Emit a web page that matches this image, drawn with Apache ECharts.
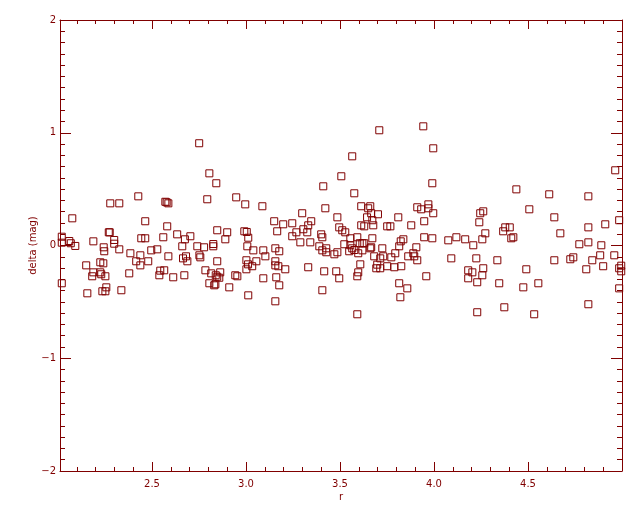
<!DOCTYPE html>
<html><head><meta charset="utf-8">
<script src="https://cdn.jsdelivr.net/npm/echarts@6/dist/echarts.min.js"></script>
<style>html,body{margin:0;padding:0;background:#fff}#c{width:640px;height:512px}</style>
</head><body><div id="c"></div>
<script>
// Tick labels
const xTicks = [2.5, 3.0, 3.5, 4.0, 4.5];
const xMinorTicks = [2.1,2.2,2.3,2.4,2.6,2.7,2.8,2.9,3.1,3.2,3.3,3.4,3.6,3.7,3.8,3.9,4.1,4.2,4.3,4.4,4.6,4.7,4.8,4.9];
const xRange = [2.0106, 5.0];
const yRange = [-2, 2];
const xName = 'r';
const yName = 'delta (mag)';

// [r, delta] values
const points = [
[2.020,0.078],[2.751,0.907],[2.805,0.640],[2.842,0.552],[2.427,0.436],[2.278,0.374],[2.326,0.374],
[2.571,0.388],[2.578,0.383],[2.587,0.374],[2.794,0.410],[2.948,0.427],[2.996,0.365],
[2.076,0.241],[2.464,0.215],[2.581,0.170],[2.270,0.117],[2.275,0.117],[2.634,0.099],
[2.847,0.135],[2.900,0.117],[2.991,0.126],[3.004,0.120],[3.012,0.069],
[2.020,0.025],[2.060,0.040],[2.068,0.020],[2.092,-0.004],[2.188,0.037],[2.243,-0.016],
[2.246,-0.051],[2.299,0.049],[2.299,0.016],[2.326,-0.034],[2.443,0.064],[2.464,0.064],
[2.385,-0.069],[2.438,-0.087],[2.496,-0.043],[2.528,-0.034],[2.560,0.073],[2.675,0.055],
[2.704,0.082],[2.661,-0.007],[2.741,-0.007],[2.777,-0.016],[2.826,0.013],[2.826,-0.007],
[2.890,0.055],[3.007,-0.007],[2.587,-0.096],[2.665,-0.114],[2.681,-0.096],[2.688,-0.140],
[2.752,-0.087],[2.757,-0.105],[2.847,-0.140],[3.002,-0.131],[3.011,-0.167],[2.150,-0.176],
[2.225,-0.149],[2.241,-0.158],[2.416,-0.140],[2.438,-0.176],[2.480,-0.140],[2.188,-0.238],
[2.182,-0.273],[2.225,-0.238],[2.230,-0.255],[2.252,-0.273],[2.379,-0.247],[2.544,-0.223],
[2.539,-0.264],[2.565,-0.220],[2.613,-0.282],[2.672,-0.264],[2.784,-0.220],[2.815,-0.247],
[2.863,-0.238],[2.839,-0.264],[2.847,-0.277],[2.858,-0.286],[2.831,-0.353],[2.837,-0.344],
[2.805,-0.335],[2.943,-0.264],[2.954,-0.273],[3.002,-0.211],[2.911,-0.371],[3.012,-0.442],
[2.020,-0.335],[2.257,-0.371],[2.236,-0.406],[2.252,-0.406],[2.337,-0.397],[2.156,-0.424],
[3.709,1.022],[3.943,1.057],[3.996,0.862],[3.565,0.791],[3.507,0.614],[3.991,0.552],
[3.411,0.525],[3.576,0.463],[3.087,0.348],[3.422,0.330],[3.299,0.286],[3.613,0.348],
[3.661,0.348],[3.650,0.330],[3.666,0.286],[3.702,0.277],[3.644,0.250],[3.672,0.224],
[3.810,0.250],[3.911,0.339],[3.932,0.321],[3.970,0.365],[3.970,0.330],[3.996,0.286],
[3.948,0.215],[3.150,0.215],[3.198,0.188],[3.246,0.197],[3.347,0.215],[3.331,0.179],
[3.486,0.250],[3.496,0.161],[3.512,0.135],[3.528,0.117],[3.613,0.179],[3.629,0.170],
[3.677,0.179],[3.751,0.170],[3.768,0.170],[3.879,0.179],[3.166,0.126],[3.268,0.117],
[3.305,0.144],[3.326,0.117],[3.246,0.082],[3.400,0.099],[3.406,0.073],[3.555,0.064],
[3.592,0.073],[3.672,0.064],[3.948,0.073],[3.991,0.064],[3.039,-0.043],[3.092,-0.043],
[3.156,-0.025],[3.177,-0.051],[3.289,0.028],[3.342,0.028],[3.390,-0.007],[3.406,-0.043],
[3.427,-0.025],[3.427,-0.060],[3.486,-0.060],[3.470,-0.078],[3.523,0.011],[3.555,0.002],
[3.565,-0.025],[3.549,-0.051],[3.576,-0.040],[3.605,0.020],[3.619,0.020],[3.629,0.020],
[3.597,-0.069],[3.619,-0.043],[3.661,-0.025],[3.666,-0.016],[3.725,-0.025],[3.815,-0.007],
[3.823,0.037],[3.837,0.055],[3.906,-0.016],[3.794,-0.069],[3.773,-0.105],[3.730,-0.096],
[3.714,-0.114],[3.682,-0.096],[3.890,-0.069],[3.895,-0.096],[3.863,-0.096],[3.911,-0.131],
[3.751,-0.184],[3.789,-0.193],[3.826,-0.184],[3.693,-0.202],[3.714,-0.202],[3.698,-0.170],
[3.608,-0.167],[3.597,-0.238],[3.592,-0.273],[3.480,-0.229],[3.496,-0.291],[3.416,-0.229],
[3.331,-0.193],[3.209,-0.211],[3.156,-0.140],[3.156,-0.176],[3.172,-0.184],[3.103,-0.096],
[3.055,-0.140],[3.033,-0.184],[3.092,-0.291],[3.161,-0.282],[3.177,-0.353],[3.156,-0.495],
[3.406,-0.397],[3.592,-0.610],[3.815,-0.335],[3.858,-0.380],[3.821,-0.459],[3.959,-0.273],
[4.438,0.498],[4.613,0.454],[4.821,0.436],[4.964,0.667],[4.507,0.321],[4.246,0.286],
[4.262,0.303],[4.241,0.206],[4.640,0.250],[4.985,0.224],[4.379,0.161],[4.403,0.161],
[4.368,0.126],[4.273,0.108],[4.672,0.108],[4.821,0.161],[4.911,0.188],[4.076,0.046],
[4.119,0.073],[4.166,0.055],[4.209,0.002],[4.257,0.055],[4.411,0.064],[4.422,0.073],
[4.773,0.011],[4.821,0.028],[4.890,0.002],[4.092,-0.114],[4.225,-0.114],[4.337,-0.131],
[4.640,-0.131],[4.725,-0.122],[4.741,-0.105],[4.842,-0.131],[4.884,-0.087],[4.959,-0.087],
[4.810,-0.211],[4.900,-0.184],[4.985,-0.202],[4.996,-0.179],[4.996,-0.229],[4.182,-0.220],
[4.204,-0.238],[4.182,-0.291],[4.262,-0.202],[4.257,-0.264],[4.230,-0.326],[4.347,-0.335],
[4.491,-0.211],[4.475,-0.371],[4.555,-0.335],[4.985,-0.380],[4.230,-0.592],[4.374,-0.548],
[4.533,-0.610],[4.821,-0.521]
];

const C = '#800000';
const FONT = 'DejaVu Sans';
const lineStyle = { color: C, width: 1 };

function xAx(pos, major, showLine, showLabel) {
  return {
    type: 'value', position: pos, min: xRange[0], max: xRange[1],
    name: showLabel ? xName : '', nameLocation: 'middle', nameGap: 21, nameMoveOverlap: false,
    nameTextStyle: { color: C, fontFamily: FONT, fontSize: 10 },
    splitLine: { show: false },
    axisLine: { show: showLine, onZero: false, lineStyle: lineStyle },
    axisTick: { show: true, inside: true, length: major ? 9 : 4, lineStyle: lineStyle,
                customValues: major ? xTicks : xMinorTicks },
    axisLabel: { show: showLabel, color: C, fontFamily: FONT, fontSize: 10, margin: 8,
                 customValues: xTicks, formatter: v => v.toFixed(1) },
    minorTick: { show: false },
    axisPointer: { show: false }
  };
}
function yAx(pos, showLabel) {
  return {
    type: 'value', position: pos, min: yRange[0], max: yRange[1], interval: 1,
    name: showLabel ? yName : '', nameLocation: 'middle', nameGap: 22, nameMoveOverlap: false,
    nameTextStyle: { color: C, fontFamily: FONT, fontSize: 10 },
    splitLine: { show: false },
    axisLine: { show: true, onZero: false, lineStyle: lineStyle },
    axisTick: { show: true, inside: true, length: 11, lineStyle: lineStyle },
    minorTick: { show: true, splitNumber: 10, length: 5, lineStyle: lineStyle },
    axisLabel: { show: showLabel, color: C, fontFamily: FONT, fontSize: 10, margin: 4,
                 formatter: v => String(v).replace('-', '\u2212') },
    axisPointer: { show: false }
  };
}

const chart = echarts.init(document.getElementById('c'), null, { renderer: 'canvas' });
chart.setOption({
  animation: false,
  backgroundColor: '#fff',
  tooltip: { show: false },
  grid: { left: 60, right: 18, top: 20, bottom: 41, containLabel: false, outerBoundsMode: 'none' },
  xAxis: [xAx('bottom', true, true, true), xAx('top', true, true, false),
          xAx('bottom', false, false, false), xAx('top', false, false, false)],
  yAxis: [yAx('left', true), yAx('right', false)],
  series: [{
    type: 'scatter', xAxisIndex: 0, yAxisIndex: 0,
    data: points, symbol: 'rect', symbolSize: 7, silent: true,
    itemStyle: { color: 'none', borderColor: C, borderWidth: 1, opacity: 1 },
    emphasis: { disabled: true }
  }]
});
</script></body></html>
